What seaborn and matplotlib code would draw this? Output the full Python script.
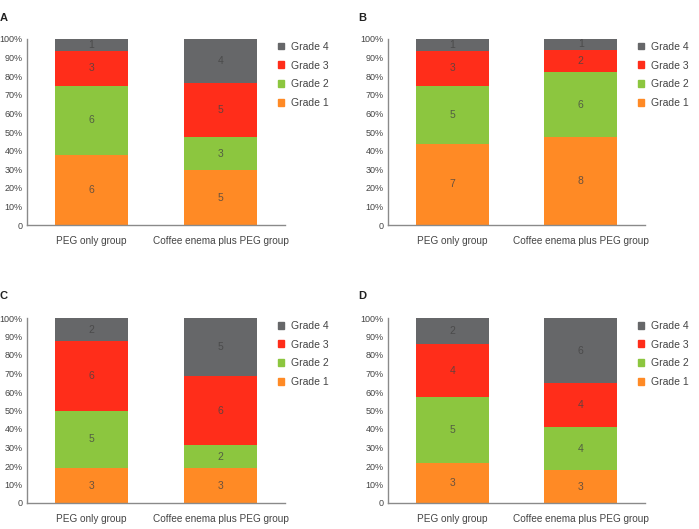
import pandas as pd
import seaborn as sns
import matplotlib.pyplot as plt
from matplotlib.patches import Patch

# datos (numero de pacientes por grado)
grupos = ['PEG only group', 'Coffee enema plus PEG group']
grados = ['Grade 1', 'Grade 2', 'Grade 3', 'Grade 4']
paneles = ['A', 'B', 'C', 'D']

a_peg = [6, 6, 3, 1]
a_cafe = [5, 3, 5, 4]
b_peg = [7, 5, 3, 1]
b_cafe = [8, 6, 2, 1]
c_peg = [3, 5, 6, 2]
c_cafe = [3, 2, 6, 5]
d_peg = [3, 5, 4, 2]
d_cafe = [3, 4, 4, 6]

datos = {'A': (a_peg, a_cafe), 'B': (b_peg, b_cafe),
         'C': (c_peg, c_cafe), 'D': (d_peg, d_cafe)}

colores = {'Grade 1': '#ff8a25', 'Grade 2': '#8cc63f',
           'Grade 3': '#ff2d1a', 'Grade 4': '#666769'}

sns.set_style('white')
plt.rcParams['font.family'] = ['Liberation Sans', 'DejaVu Sans']

fig = plt.figure(figsize=(6.99, 5.29), dpi=100)

# posiciones de los ejes en pixeles (izq, der, arriba, abajo)
cajas = {'A': (27, 285, 39, 225), 'B': (388, 645, 39, 225),
         'C': (27, 285, 318, 503), 'D': (388, 645, 318, 503)}
letras = {'A': (0, 18), 'B': (358, 18), 'C': (0, 296), 'D': (358, 296)}
W, H = 699, 529

for p in paneles:
    x0, x1, y0, y1 = cajas[p]
    ax = fig.add_axes([x0 / W, 1 - y1 / H, (x1 - x0) / W, (y1 - y0) / H])

    filas = []
    for g, cuentas in zip(grupos, datos[p]):
        total = sum(cuentas)
        acum = 0
        for gr, n in zip(grados, cuentas):
            pct = n / total * 100
            filas.append({'group': g, 'grade': gr, 'n': n, 'pct': pct,
                          'bottom': acum, 'top': acum + pct})
            acum += pct
    df = pd.DataFrame(filas)

    # barras apiladas: se dibuja el acumulado de arriba hacia abajo
    for gr in reversed(grados):
        sub = df[df['grade'] == gr]
        sns.barplot(data=sub, x='group', y='top', order=grupos,
                    color=colores[gr], width=0.565, ax=ax,
                    saturation=1, linewidth=0)

    for i, g in enumerate(grupos):
        for _, r in df[df['group'] == g].iterrows():
            ax.text(i, r['bottom'] + r['pct'] / 2, str(r['n']),
                    ha='center', va='center', fontsize=7.5, color='#444444', alpha=0.8)

    ax.set_xlim(-0.5, 1.5)
    ax.set_ylim(0, 100)
    ax.set_yticks(range(0, 101, 10))
    ax.set_yticklabels(['0'] + [f'{v}%' for v in range(10, 101, 10)])
    ax.set_xlabel('')
    ax.set_ylabel('')
    ax.tick_params(axis='y', length=0, labelsize=6.5, colors='#444444', pad=3)
    ax.tick_params(axis='x', length=0, labelsize=7.2, colors='#444444', pad=8)
    sns.despine(ax=ax)
    for s in ['left', 'bottom']:
        ax.spines[s].set_color('#8a8a8a')
        ax.spines[s].set_linewidth(1)

    manejadores = [Patch(color=colores[gr], label=gr) for gr in reversed(grados)]
    ax.legend(handles=manejadores, loc='upper left', bbox_to_anchor=(0.955, 1.008),
              frameon=False, fontsize=7.5, handlelength=0.65, handleheight=0.65,
              handletextpad=0.6, labelspacing=0.85, borderaxespad=0,
              labelcolor='#444444')

    lx, ly = letras[p]
    fig.text(lx / W, 1 - ly / H, p, fontsize=8, fontweight='bold',
             color='#222222', va='center', ha='left')

fig.savefig('out.png', dpi=100)
